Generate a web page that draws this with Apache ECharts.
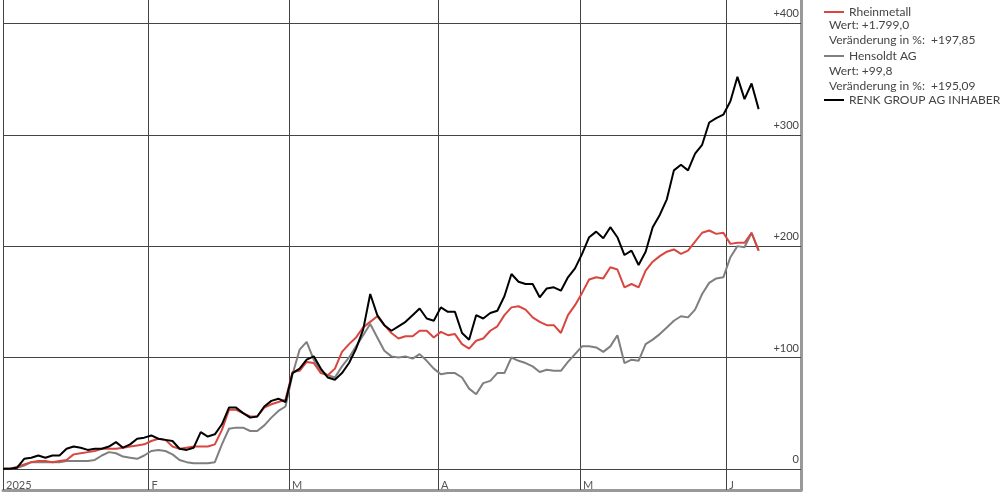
<!DOCTYPE html>
<html><head><meta charset="utf-8">
<script src="https://cdn.jsdelivr.net/npm/echarts@6/dist/echarts.min.js"></script>
<style>html,body{margin:0;padding:0;background:#fff}#c{width:1000px;height:498px}</style>
</head><body><div id="c"></div>
<script>
const seriesNames = ['Rheinmetall', 'Hensoldt AG', 'RENK GROUP AG INHABER'];
const rheinmetall = [0,0,2,4,6,7,7,6,7,8,13,14,15,16,18,18,18,19,20,21,22,25,27,26,20,18,19,20,20,20,22,35,53,53,50,47,47,55,58,60,62,
87,88,96,95,86,84,90,105,112,118,127,132,137,129,122,117,119,119,124,124,118,123,120,121,112,108,115,117,124,128,138,145,146,143,136,132,129,129,122,138,147,158,
170,172,171,181,179,163,166,163,178,186,191,195,197,193,196,204,212,214,211,212,202,203,203,212,196];
const hensoldt = [0,0,1,3,6,6,6,6,6,7,7,7,7,8,12,15,14,11,10,9,12,16,17,16,13,8,6,5,5,5,6,22,36,37,37,34,34,39,46,52,56,
85,107,114,98,88,84,82,92,100,110,120,130,118,106,101,100,101,99,103,97,90,85,86,86,82,72,67,77,79,86,86,100,97,95,92,87,89,88,88,96,103,110,
110,109,105,110,120,95,98,97,112,116,121,127,133,137,136,143,157,167,171,172,190,200,199,212,196];
const renk = [0,0,1,9,10,12,10,12,12,18,20,19,17,18,18,20,24,19,22,27,28,30,27,26,25,18,17,19,33,29,31,40,55,55,50,46,47,56,61,63,60,
86,90,98,101,90,82,80,86,95,108,125,157,138,129,124,128,132,138,144,135,133,145,141,141,122,116,138,135,140,142,155,175,168,166,166,154,162,163,160,172,180,193,
208,213,207,217,208,192,196,183,195,217,228,242,268,273,268,283,291,311,315,318,330,352,332,346,323];
const monthPos = [0, 20.6, 40.5, 61.6, 81.7, 102.4];
const monthLabels = ['2025', 'F', 'M', 'A', 'M', 'J'];
const yTicks = [0, 100, 200, 300, 400];
const legendInfo = [
  ['Wert: +1.799,0', 'Veränderung in %:  +197,85'],
  ['Wert: +99,8', 'Veränderung in %:  +195,09']
];
const font = 'Lato, "Noto Sans", sans-serif';
const chart = echarts.init(document.getElementById('c'));
const colors = ['#d9463f', '#7f7f7f', '#000000'];
const pts = arr => arr.map((v, i) => [i, v]);
const gridLines = yTicks.map(v => ({yAxis: v, label: {formatter: v > 0 ? '+' + v : String(v)}}));
const monthLines = monthPos.map((v, k) => ({xAxis: v, label: {formatter: monthLabels[k]}}));
const txt = [];
legendInfo.forEach((pair, k) => {
  pair.forEach((t, j) => txt.push({type: 'text', left: 829, top: 19 + k * 46 + j * 15,
    style: {text: t, fill: '#444', font: '12px ' + font}}));
});
chart.setOption({
  animation: false,
  color: colors,
  textStyle: {fontFamily: font},
  grid: {left: 3, right: 199, top: 0, bottom: 8},
  legend: {orient: 'vertical', left: 819, top: 1, itemGap: 32, itemWidth: 20, itemHeight: 2, icon: 'rect',
    textStyle: {fontSize: 12, color: '#444', fontFamily: font}, data: seriesNames},
  xAxis: {type: 'value', min: 0, max: 113,
    axisLine: {show: true, onZero: false, lineStyle: {color: '#999', width: 3}},
    axisTick: {show: false}, splitLine: {show: false}, axisLabel: {show: false}},
  yAxis: {type: 'value', min: -19, max: 421, position: 'right',
    axisLine: {show: true, onZero: false, lineStyle: {color: '#999', width: 3}},
    axisLabel: {show: false}, axisTick: {show: false}, splitLine: {show: false}},
  graphic: txt,
  series: [
    {name: seriesNames[0], type: 'line', data: pts(rheinmetall), symbol: 'none', lineStyle: {width: 2}, z: 3,
      markLine: {silent: true, symbol: 'none', data: gridLines, lineStyle: {color: '#444', width: 1, type: 'solid'},
        label: {position: 'insideEndTop', color: '#444', fontSize: 11, distance: [2, 4]}, z: 1}},
    {name: seriesNames[1], type: 'line', data: pts(hensoldt), symbol: 'none', lineStyle: {width: 2}, z: 2,
      markLine: {silent: true, symbol: 'none', data: monthLines, lineStyle: {color: '#444', width: 1, type: 'solid'},
        label: {position: 'start', rotate: 0, align: 'left', verticalAlign: 'bottom', color: '#555', fontSize: 11, distance: [3, 3], offset: [3, -2]}, z: 1}},
    {name: seriesNames[2], type: 'line', data: pts(renk), symbol: 'none', lineStyle: {width: 2}, z: 4}
  ]
});
</script></body></html>
